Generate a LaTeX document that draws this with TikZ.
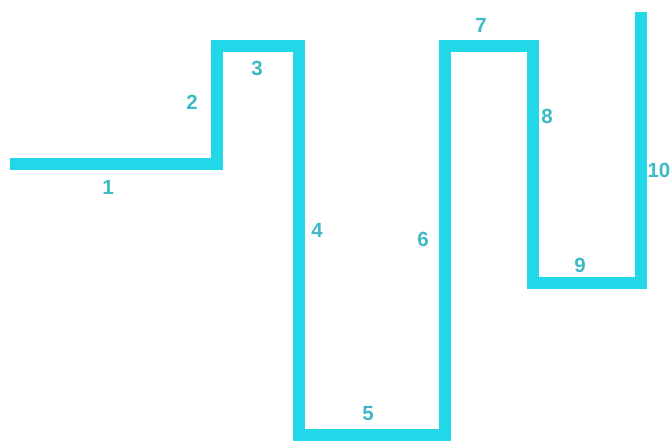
\documentclass[tikz,border=0pt]{standalone}
\usepackage{fontspec}
\setmainfont{Liberation Sans}
\definecolor{linec}{HTML}{22D8E8}
\definecolor{labc}{HTML}{3DBAC6}
\tikzset{
  wire/.style={draw=linec, line width=11.5pt, line join=miter, line cap=butt},
  lab/.style={text=labc, font=\fontsize{20.5}{20.5}\selectfont\bfseries, inner sep=0pt}
}
\begin{document}
\begin{tikzpicture}[x=1pt,y=-1pt]
\useasboundingbox (0,0) rectangle (671,441);
\fill[white] (0,0) rectangle (671,441);
\coordinate (p0) at (10,164);
\coordinate (p1) at (217,164);
\coordinate (p2) at (217,46);
\coordinate (p3) at (299,46);
\coordinate (p4) at (299,435);
\coordinate (p5) at (445,435);
\coordinate (p6) at (445,46);
\coordinate (p7) at (533,46);
\coordinate (p8) at (533,283);
\coordinate (p9) at (641,283);
\coordinate (p10) at (641,12);
\draw[wire] (p0) -- (p1) -- (p2) -- (p3) -- (p4) -- (p5) -- (p6) -- (p7) -- (p8) -- (p9) -- (p10);
\node[lab] (l1) at (108,187) {1};
\node[lab] (l2) at (192,102) {2};
\node[lab] (l3) at (257,68) {3};
\node[lab] (l4) at (317,230) {4};
\node[lab] (l5) at (368,414) {5};
\node[lab] (l6) at (423,239) {6};
\node[lab] (l7) at (481,25) {7};
\node[lab] (l8) at (547,116) {8};
\node[lab] (l9) at (580,265) {9};
\node[lab, anchor=east] (l10) at (670.5,170) {10};
\end{tikzpicture}
\end{document}
